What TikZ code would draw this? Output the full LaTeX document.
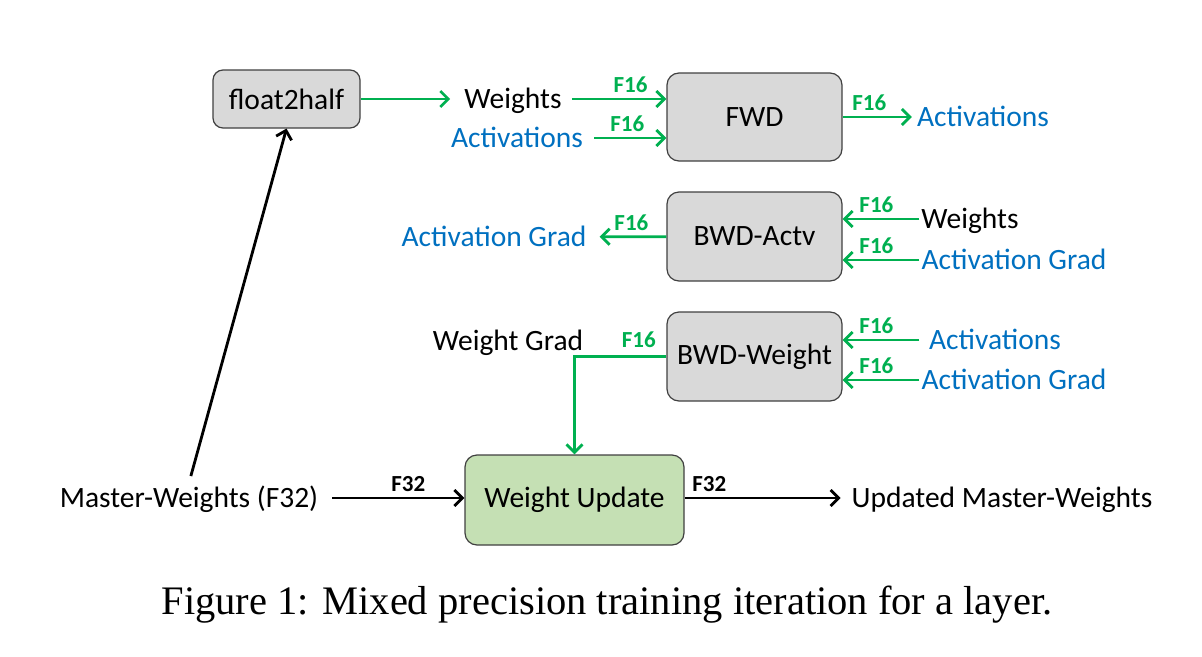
\documentclass[tikz,border=0pt]{standalone}
\usepackage{fontspec}
\setmainfont{Carlito}
\newfontfamily\capfont{Liberation Serif}
\usetikzlibrary{arrows.meta, positioning, calc}
\definecolor{GreenArrow}{HTML}{00B050}
\definecolor{BlueText}{HTML}{0070C0}
\definecolor{BoxGray}{HTML}{D9D9D9}
\definecolor{BoxEdge}{HTML}{404040}
\definecolor{UpdGreen}{HTML}{C5E0B4}

\begin{document}
\begin{tikzpicture}[
        x=1pt, y=-1pt,
        opbox/.style={rectangle, draw=BoxEdge, line width=1.2pt, fill=BoxGray, rounded corners=12pt, align=center, font=\fontsize{29.5}{32}\selectfont, text=black},
        txt/.style={inner sep=2pt, text height=22pt, text depth=4pt, font=\fontsize{29.5}{32}\selectfont},
        btxt/.style={txt, text=BlueText},
        lab/.style={inner sep=1pt, font=\fontsize{23}{25}\selectfont\bfseries},
        garr/.style={-{Straight Barb[length=8pt, width=16pt, line width=2.8pt]}, line width=2.8pt, GreenArrow},
        barr/.style={-{Straight Barb[length=8pt, width=16pt, line width=2.8pt]}, line width=2.8pt, black}
      ]
        \useasboundingbox (0,0) rectangle (1202,656);

        % boxes
        \node[opbox, minimum width=147pt, minimum height=58pt, rounded corners=10pt] (f2h) at (286.5,99) {float2half};
        \node[opbox, minimum width=175pt, minimum height=88pt] (fwd) at (754.5,117) {FWD};
        \node[opbox, minimum width=175pt, minimum height=89pt] (bwda) at (754.5,236.5) {BWD-Actv};
        \node[opbox, minimum width=175pt, minimum height=89pt] (bwdw) at (754.5,356.5) {BWD-Weight};
        \node[opbox, fill=UpdGreen, minimum width=219pt, minimum height=90pt] (wu) at (574.5,500) {Weight Update};

        % texts
        \node[txt] (wts) at (513,99) {Weights};
        \node[btxt] (actin) at (517,138) {Activations};
        \node[btxt] (actout) at (983,117) {Activations};
        \node[btxt] (agout) at (494,237) {Activation Grad};
        \node[txt] (wtsb) at (970,219) {Weights};
        \node[btxt] (agin) at (1014,260) {Activation Grad};
        \node[btxt] (actw) at (995,340) {Activations};
        \node[btxt] (agw) at (1014,380) {Activation Grad};
        \node[txt] (wgrad) at (508,341) {Weight Grad};
        \node[txt] (mw) at (189,498) {Master-Weights (F32)};
        \node[txt] (umw) at (1002,498) {Updated Master-Weights};

        % forward
        \draw[garr, shorten >=12pt] (f2h) -- (wts);
        \draw[garr, shorten <=8pt] (wts.east) -- (wts.east -| fwd.west) node[lab, pos=0.65, above=4pt] {F16};
        \draw[garr, shorten <=9pt] (actin.east) -- (actin.east -| fwd.west) node[lab, pos=0.52, above=4pt] {F16};
        \draw[garr, shorten >=3pt] (fwd) -- (actout) node[lab, pos=0.37, above=4pt] {F16};

        % backward activations
        \draw[garr, shorten >=11pt] (bwda) -- (agout) node[lab, pos=0.45, above=4pt] {F16};
        \draw[garr] (wtsb.west -| agin.west) -- (wtsb.west -| bwda.east) node[lab, pos=0.56, above=4pt] {F16};
        \draw[garr] (agin.west) -- (agin.west -| bwda.east) node[lab, pos=0.56, above=4pt] {F16};

        % backward weights
        \draw[garr] (actw.west -| agw.west) -- (actw.west -| bwdw.east) node[lab, pos=0.56, above=4pt] {F16};
        \draw[garr] (agw.west) -- (agw.west -| bwdw.east) node[lab, pos=0.56, above=4pt] {F16};
        \draw[garr] (bwdw.west) -| (wu.north) node[lab, pos=0.15, above=6pt] {F16};

        % update
        \draw[barr, shorten <=12pt] (mw.east) -- (mw.east -| wu.west) node[lab, pos=0.61, above=4pt] {F32};
        \draw[barr, shorten >=9pt] (wu.east |- umw.west) -- (umw.west) node[lab, pos=0.15, above=4pt] {F32};
        \draw[barr, shorten <=7pt] (mw.north) -- (f2h.south);

        \node[font=\capfont\fontsize{40.5}{44}\selectfont] (cap) at (607,605) {Figure 1: Mixed precision training iteration for a layer.};
      \end{tikzpicture}
\end{document}
